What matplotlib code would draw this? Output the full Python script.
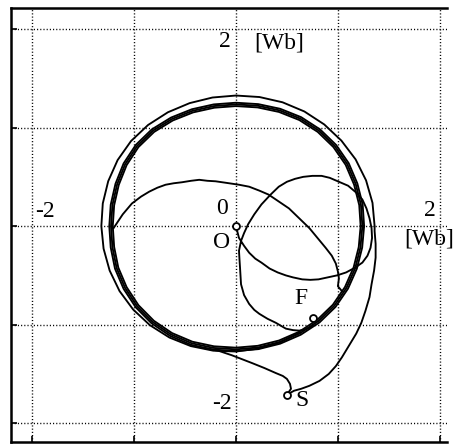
import numpy as np
import matplotlib
matplotlib.use("Agg")
import matplotlib.pyplot as plt

# ---------------- data (flux in Wb) ----------------
# steady-state flux locus: several superimposed turns, given as angle [deg] / radius [Wb]
band_angle = [0, 10, 20, 30, 40, 50, 60, 70, 80, 90, 100, 110, 120, 130, 140, 150, 160, 170, 180,
              190, 200, 210, 220, 230, 240, 250, 260, 270, 280, 290, 300, 310, 320, 330, 340, 350, 360]
band_radius = [1.24, 1.245, 1.25, 1.26, 1.265, 1.265, 1.26, 1.25, 1.24, 1.235, 1.237, 1.245, 1.255,
               1.265, 1.265, 1.255, 1.24, 1.23, 1.225, 1.23, 1.245, 1.255, 1.265, 1.27, 1.27, 1.265,
               1.255, 1.25, 1.25, 1.252, 1.255, 1.258, 1.258, 1.252, 1.245, 1.24, 1.24]
band_turn_offset = [0.017, 0.0, -0.017]

# outer turn leaving point S (first part in x/y, then around the origin)
ring_start_x = [0.50, 0.57, 0.64, 0.72, 0.82, 0.91, 0.98, 1.04, 1.11, 1.18, 1.23, 1.27, 1.31, 1.33, 1.355, 1.37, 1.37, 1.36]
ring_start_y = [-1.71, -1.67, -1.65, -1.62, -1.57, -1.50, -1.42, -1.33, -1.21, -1.09, -0.98, -0.86, -0.72, -0.59, -0.45, -0.32, -0.18, -0.05]
ring_angle = [0, 10, 20, 30, 40, 50, 60, 70, 80, 90, 100, 110, 120, 130, 140, 150,
              160, 170, 180, 190, 200, 210, 220, 230, 240, 250, 260, 270, 280, 290, 300]
ring_radius = [1.36, 1.36, 1.358, 1.355, 1.35, 1.347, 1.343, 1.337, 1.33, 1.325, 1.325, 1.328, 1.334,
               1.34, 1.343, 1.34, 1.333, 1.326, 1.32, 1.318, 1.318, 1.318, 1.316, 1.312, 1.305,
               1.295, 1.283, 1.272, 1.262, 1.255, 1.25]

# path from S back to the locus (lower left)
sleft_x = [0.50, 0.54, 0.53, 0.50, 0.46, 0.39, 0.28, 0.16, 0.06, -0.04, -0.17, -0.30]
sleft_y = [-1.71, -1.65, -1.60, -1.55, -1.52, -1.49, -1.44, -1.39, -1.35, -1.31, -1.265, -1.24]

# trajectory from the origin O: loop to the right, then down towards F
oloop_x = [0.00, 0.03, 0.08, 0.13, 0.19, 0.25, 0.33, 0.41, 0.49, 0.56, 0.65, 0.73, 0.81, 0.90, 0.99,
           1.08, 1.17, 1.24, 1.29, 1.32, 1.335, 1.33, 1.31, 1.28, 1.24, 1.18, 1.10, 1.01, 0.92, 0.84,
           0.75, 0.66, 0.58, 0.50, 0.42, 0.34, 0.25, 0.18, 0.12, 0.08, 0.05, 0.03, 0.035, 0.04, 0.05,
           0.08, 0.13, 0.18, 0.23, 0.31, 0.39, 0.49, 0.56, 0.62, 0.67, 0.72, 0.76]
oloop_y = [0.00, -0.12, -0.20, -0.27, -0.33, -0.37, -0.43, -0.47, -0.50, -0.52, -0.54, -0.545, -0.54, -0.52, -0.50,
           -0.47, -0.42, -0.37, -0.30, -0.22, -0.12, -0.02, 0.08, 0.18, 0.27, 0.34, 0.41, 0.45, 0.49, 0.51,
           0.51, 0.50, 0.48, 0.45, 0.40, 0.32, 0.22, 0.12, 0.02, -0.07, -0.15, -0.25, -0.34, -0.42, -0.59,
           -0.70, -0.79, -0.85, -0.89, -0.94, -0.98, -1.04, -1.055, -1.06, -1.05, -1.03, -1.00]

# large arc crossing the locus (from the left side to the lower right)
arc_x = [-1.20, -1.11, -1.02, -0.93, -0.85, -0.77, -0.69, -0.61, -0.53, -0.44, -0.36, -0.28, -0.20,
         -0.10, 0.03, 0.13, 0.23, 0.32, 0.42, 0.52, 0.62, 0.72, 0.80, 0.88, 0.94, 0.98, 1.00, 1.01, 1.00, 1.04]
arc_y = [-0.02, 0.12, 0.23, 0.30, 0.35, 0.39, 0.42, 0.435, 0.445, 0.46, 0.47, 0.46, 0.455,
         0.44, 0.42, 0.40, 0.36, 0.32, 0.25, 0.18, 0.08, -0.02, -0.12, -0.22, -0.30, -0.38, -0.46, -0.53, -0.61, -0.66]

# marked points
point_names = ["O", "F", "S"]
point_x = [0.00, 0.755, 0.50]
point_y = [0.00, -0.935, -1.71]

grid_ticks = [-2, -1, 0, 1, 2]

# ---------------- figure ----------------
plt.rcParams['font.family'] = ['Liberation Serif', 'DejaVu Serif']
fig = plt.figure(figsize=(4.54, 4.44), dpi=100)
ax = fig.add_axes([11 / 454, 2 / 444, 436 / 454, 434 / 444])
ax.set_xlim(-2.206, 2.07)
ax.set_ylim(-2.19, 2.213)

lw = 1.35
col = 'black'

ba = np.deg2rad(band_angle)
for off in band_turn_offset:
    r = np.asarray(band_radius) + off
    ax.plot(r * np.cos(ba), r * np.sin(ba), color=col, lw=lw, zorder=3)

ra = np.deg2rad(ring_angle)
rr = np.asarray(ring_radius)
ring_x = np.concatenate([ring_start_x, rr * np.cos(ra)])
ring_y = np.concatenate([ring_start_y, rr * np.sin(ra)])
ax.plot(ring_x, ring_y, color=col, lw=lw, zorder=3)

ax.plot(sleft_x, sleft_y, color=col, lw=lw, zorder=3)
ax.plot(oloop_x, oloop_y, color=col, lw=lw, zorder=3)
ax.plot(arc_x, arc_y, color=col, lw=lw, zorder=3)

ax.plot(point_x, point_y, linestyle='none', marker='o', markersize=5,
        markerfacecolor='white', markeredgecolor='black', markeredgewidth=1.3, zorder=5)

# grid
ax.set_xticks(grid_ticks)
ax.set_yticks(grid_ticks)
ax.grid(True, color='black', linestyle=(0, (0.8, 1.5)), linewidth=1.0)
ax.tick_params(direction='in', length=4, width=1.2, labelbottom=False, labelleft=False,
               top=False, right=False)

for s in ['left', 'bottom', 'top']:
    ax.spines[s].set_linewidth(1.8)
ax.spines['right'].set_visible(False)

fs = 17
ax.text(-0.05, 1.87, "2", fontsize=fs, ha='right', va='center')
ax.text(0.18, 1.86, "[Wb]", fontsize=fs, ha='left', va='center')
ax.text(-0.14, 0.18, "0", fontsize=fs, ha='center', va='center')
ax.text(-0.14, -0.17, "O", fontsize=fs, ha='center', va='center')
ax.text(-1.87, 0.15, "-2", fontsize=fs, ha='center', va='center')
ax.text(1.90, 0.16, "2", fontsize=fs, ha='center', va='center')
ax.text(1.65, -0.13, "[Wb]", fontsize=fs, ha='left', va='center', clip_on=False)
ax.text(-0.04, -1.80, "-2", fontsize=fs, ha='right', va='center')
ax.text(0.64, -0.73, "F", fontsize=fs, ha='center', va='center')
ax.text(0.65, -1.77, "S", fontsize=fs, ha='center', va='center')

fig.savefig("out.png", dpi=100)
